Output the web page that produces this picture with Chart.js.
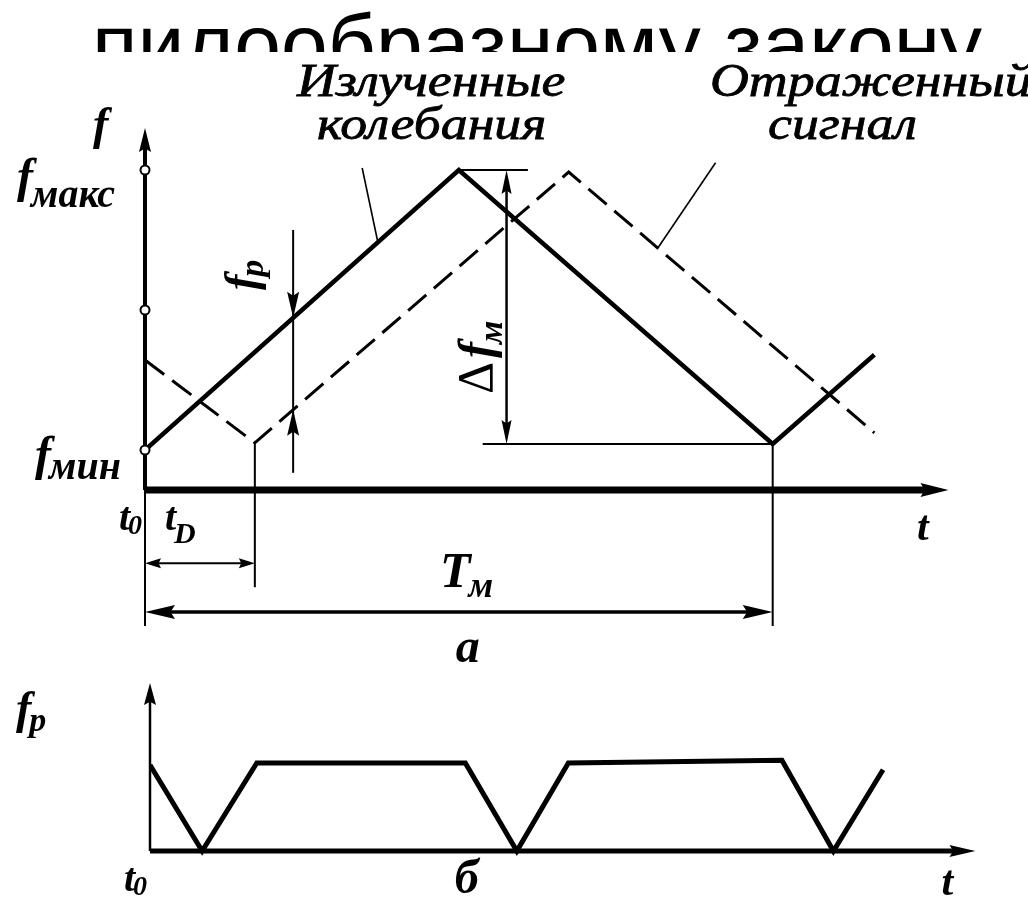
<!DOCTYPE html>
<html>
<head>
<meta charset="utf-8">
<script src="https://cdn.jsdelivr.net/npm/chart.js@4.4.1/dist/chart.umd.min.js"></script>
<style>
  html, body { margin: 0; padding: 0; background: #fff; width: 1028px; height: 910px; overflow: hidden; }
  body { position: relative; }
  #title { position: absolute; left: 92px; top: 2px; font: 84px "Liberation Sans", Arial, sans-serif; line-height: 1; white-space: nowrap; color: #000; }
  #top { position: absolute; left: 0; top: 52px; background: #fff; }
  #bottom { position: absolute; left: 0; top: 680px; background: #fff; }
</style>
</head>
<body>
<div id="title">пилообразному закону</div>
<canvas id="top" width="1028" height="628"></canvas>
<canvas id="bottom" width="1028" height="230"></canvas>
<script>
// время в условных единицах, период модуляции Tm = 10
const emittedT = [0, 5, 10, 11.62];
const emittedF = [1, 8, 1.15, 3.38];
const reflectedT = [0, 1.75, 6.75, 11.62];
const reflectedF = [3.25, 1.18, 7.95, 1.43];
const beatT = [0, 0.83, 1.7, 5.02, 5.84, 6.66, 10.06, 10.88, 11.67];
const beatF = [2.15, 0, 2.2, 2.2, 0, 2.2, 2.27, 0, 2.03];

const fMin = 1, fMid = 4.5, fMax = 8;
const tD = 1.75, Tm = 10;
const tProbe = 2.36;      // момент, где показана разностная частота
const fDevLevel = 1.15;   // нижний уровень для Δfм

const SERIF = '"Liberation Serif", "DejaVu Serif", serif';

const pts = (xs, ys) => xs.map((x, i) => ({ x, y: ys[i] }));
function interp(xs, ys, t) {
  for (let i = 1; i < xs.length; i++) {
    if (t <= xs[i]) {
      const k = (t - xs[i - 1]) / (xs[i] - xs[i - 1]);
      return ys[i - 1] + k * (ys[i] - ys[i - 1]);
    }
  }
  return ys[ys.length - 1];
}

function line(ctx, x1, y1, x2, y2, w) {
  ctx.lineWidth = w;
  ctx.beginPath();
  ctx.moveTo(x1, y1);
  ctx.lineTo(x2, y2);
  ctx.stroke();
}
// наконечник стрелки с острием в (x, y)
function arrowHead(ctx, x, y, ang, len, half) {
  const c = Math.cos(ang), s = Math.sin(ang);
  const bx = x - c * len, by = y - s * len;
  ctx.beginPath();
  ctx.moveTo(x, y);
  ctx.lineTo(bx - s * half, by + c * half);
  ctx.lineTo(bx + c * len * 0.15, by + s * len * 0.15);
  ctx.lineTo(bx + s * half, by - c * half);
  ctx.closePath();
  ctx.fill();
}
function label(ctx, x, y, main, sub, size, subSize, subDy, weight) {
  weight = weight || 'bold';
  ctx.font = `italic ${weight} ${size}px ${SERIF}`;
  ctx.fillText(main, x, y);
  if (sub) {
    const w = ctx.measureText(main).width;
    ctx.font = `italic ${weight} ${subSize}px ${SERIF}`;
    ctx.fillText(sub, x + w - 2, y + subDy);
  }
}
// курсивная подпись, растянутая по ширине, с небольшим утолщением штрихов
function caption(ctx, text, x, y) {
  ctx.save();
  ctx.translate(x, y);
  ctx.scale(1.17, 1);
  ctx.font = `italic 46px ${SERIF}`;
  ctx.lineWidth = 0.8;
  ctx.fillText(text, 0, 0);
  ctx.strokeText(text, 0, 0);
  ctx.restore();
}

const topDecor = {
  id: 'topDecor',
  afterDatasetsDraw(chart) {
    const { ctx, scales: { x, y } } = chart;
    const px = v => x.getPixelForValue(v), py = v => y.getPixelForValue(v);
    ctx.save();
    ctx.strokeStyle = '#000';
    ctx.fillStyle = '#000';
    ctx.textBaseline = 'alphabetic';

    // оси
    line(ctx, px(0), py(0), px(12.45), py(0), 7);
    arrowHead(ctx, px(12.8), py(0), 0, 28, 7);
    line(ctx, px(0), py(-3.4), px(0), py(0), 2);
    line(ctx, px(0), py(0), px(0), py(8.7), 4);
    arrowHead(ctx, px(0), py(9.05), -Math.PI / 2, 24, 6);
    [fMin, fMid, fMax].forEach(v => {
      ctx.beginPath();
      ctx.arc(px(0), py(v), 4.5, 0, Math.PI * 2);
      ctx.fillStyle = '#fff';
      ctx.fill();
      ctx.lineWidth = 2;
      ctx.stroke();
      ctx.fillStyle = '#000';
    });

    // выносные линии tD и Tm
    line(ctx, px(tD), py(interp(reflectedT, reflectedF, tD)), px(tD), py(-2.43), 2);
    line(ctx, px(Tm), py(interp(emittedT, emittedF, Tm)), px(Tm), py(-3.4), 2);

    // размер tD
    const yD = py(-1.83);
    line(ctx, px(0) + 6, yD, px(tD) - 6, yD, 2);
    arrowHead(ctx, px(0), yD, Math.PI, 16, 5);
    arrowHead(ctx, px(tD), yD, 0, 16, 5);

    // размер Tm
    const yT = py(-3.05);
    line(ctx, px(0) + 10, yT, px(Tm) - 10, yT, 3.5);
    arrowHead(ctx, px(0), yT, Math.PI, 30, 7);
    arrowHead(ctx, px(Tm), yT, 0, 30, 7);

    // девиация Δfм
    const xDev = px(5.76);
    line(ctx, px(5), py(fMax), px(6.1), py(fMax), 2);
    line(ctx, px(5.38), py(fDevLevel), px(Tm), py(fDevLevel), 2);
    line(ctx, xDev, py(fMax) + 10, xDev, py(fDevLevel) - 10, 2.5);
    arrowHead(ctx, xDev, py(fMax), -Math.PI / 2, 24, 5);
    arrowHead(ctx, xDev, py(fDevLevel), Math.PI / 2, 24, 5);

    // разностная частота fp
    const xp = px(tProbe);
    const yHi = py(interp(emittedT, emittedF, tProbe));
    const yLo = py(interp(reflectedT, reflectedF, tProbe));
    line(ctx, xp, py(6.5), xp, py(0.43), 2);
    arrowHead(ctx, xp, yHi, Math.PI / 2, 26, 6);
    arrowHead(ctx, xp, yLo, -Math.PI / 2, 26, 6);

    // указатели подписей
    line(ctx, px(3.46), py(8.05), px(3.71), py(interp(emittedT, emittedF, 3.71)), 1.6);
    line(ctx, px(9.09), py(8.18), px(8.17), py(interp(reflectedT, reflectedF, 8.17)), 1.6);

    // подписи осей и размеров
    label(ctx, px(0) - 52, py(9.05) + 11, 'f', '', 46, 0, 0);
    label(ctx, px(0) - 128, py(fMax) + 22, 'f', 'макс', 48, 40, 15);
    label(ctx, px(0) - 110, py(fMin) + 20, 'f', 'мин', 48, 40, 9);
    label(ctx, px(0) - 26, py(0) + 40, 't', '0', 40, 28, 4);
    label(ctx, px(0) + 20, py(0) + 40, 't', 'D', 40, 30, 13);
    label(ctx, px(4.7), py(0) + 97, 'T', 'м', 50, 36, 10);
    label(ctx, px(12.3), py(0) + 50, 't', '', 42, 0, 0);
    label(ctx, px(4.95), py(0) + 172, 'а', '', 48, 0, 0);

    caption(ctx, 'Излученные', 297, 44);
    caption(ctx, 'колебания', 317, 87);
    caption(ctx, 'Отраженный', 710, 44);
    caption(ctx, 'сигнал', 768, 87);

    // повернутые подписи
    ctx.save();
    ctx.translate(px(1.55), py(5.6));
    ctx.rotate(-Math.PI / 2);
    label(ctx, -24, 14, 'f', 'p', 46, 34, 7);
    ctx.restore();

    ctx.save();
    ctx.translate(px(5.3), py(3.6));
    ctx.rotate(-Math.PI / 2);
    ctx.font = `50px ${SERIF}`;
    ctx.fillText('\u0394', -48, 14);
    label(ctx, -12, 14, 'f', 'м', 48, 34, 10);
    ctx.restore();

    ctx.restore();
  }
};

const bottomDecor = {
  id: 'bottomDecor',
  afterDatasetsDraw(chart) {
    const { ctx, scales: { x, y } } = chart;
    const px = v => x.getPixelForValue(v), py = v => y.getPixelForValue(v);
    ctx.save();
    ctx.strokeStyle = '#000';
    ctx.fillStyle = '#000';
    line(ctx, px(0), py(0), px(12.8), py(0), 5);
    arrowHead(ctx, px(13.14), py(0), 0, 26, 6);
    line(ctx, px(0), py(0), px(0), py(3.8), 2.5);
    arrowHead(ctx, px(0), py(4.2), -Math.PI / 2, 22, 6);
    label(ctx, px(0) - 134, py(3.3) + 4, 'f', 'p', 46, 34, 8);
    label(ctx, px(0) - 26, py(0) + 40, 't', '0', 40, 28, 4);
    label(ctx, px(4.85), py(0) + 42, 'б', '', 48, 0, 0);
    label(ctx, px(12.6), py(0) + 44, 't', '', 42, 0, 0);
    ctx.restore();
  }
};

function baseOptions(xMax, yMin, yMax, padding) {
  return {
    responsive: false,
    animation: false,
    layout: { padding },
    plugins: { legend: { display: false }, tooltip: { enabled: false } },
    elements: { point: { radius: 0 }, line: { tension: 0 } },
    scales: {
      x: { type: 'linear', min: 0, max: xMax, display: false },
      y: { type: 'linear', min: yMin, max: yMax, display: false }
    }
  };
}

new Chart(document.getElementById('top'), {
  type: 'scatter',
  data: {
    datasets: [
      {
        label: 'Излученные колебания',
        data: pts(emittedT, emittedF),
        showLine: true,
        borderColor: '#000',
        borderWidth: 4.5,
        borderCapStyle: 'butt',
        borderJoinStyle: 'miter'
      },
      {
        label: 'Отраженный сигнал',
        data: pts(reflectedT, reflectedF),
        showLine: true,
        borderColor: '#000',
        borderWidth: 3,
        borderDash: [24, 10],
        borderJoinStyle: 'miter'
      }
    ]
  },
  options: baseOptions(13, -4, 10, { left: 145, right: 67, top: 38, bottom: 30 }),
  plugins: [topDecor]
});

new Chart(document.getElementById('bottom'), {
  type: 'scatter',
  data: {
    datasets: [
      {
        label: 'fp',
        data: pts(beatT, beatF),
        showLine: true,
        borderColor: '#000',
        borderWidth: 5,
        borderJoinStyle: 'miter'
      }
    ]
  },
  options: baseOptions(13.5, -1.2, 4, { left: 150, right: 30, top: 11, bottom: 11 }),
  plugins: [bottomDecor]
});
</script>
</body>
</html>
